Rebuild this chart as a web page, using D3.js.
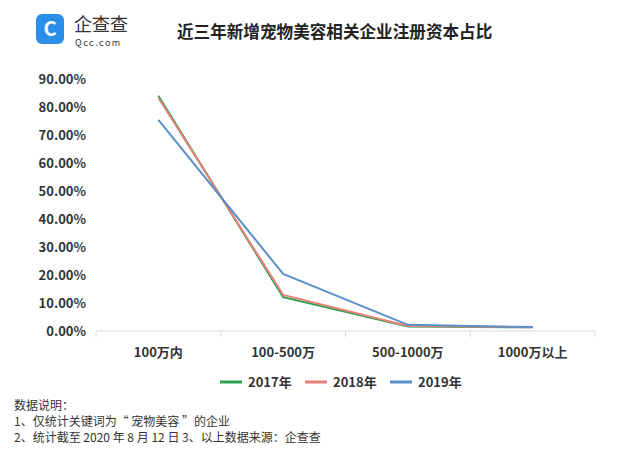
<!DOCTYPE html><html><head><meta charset="utf-8"><script src="https://cdn.jsdelivr.net/npm/d3@7"></script>
<style>body{margin:0;background:#fff}svg{font-family:"Noto Sans CJK SC","Noto Sans",sans-serif}</style></head><body><svg width="640" height="452"></svg>
<script>
const categories=["100万内","100-500万","500-1000万","1000万以上"];
const years=["2017年","2018年","2019年"];
const v2017=[84.0,12.1,1.6,1.3];
const v2018=[83.3,12.9,1.8,1.3];
const v2019=[75.4,20.4,2.2,1.4];
const colors=["#2ea04f","#e8817a","#5b8fc7"];
const yTicks=[0,10,20,30,40,50,60,70,80,90];
const svg=d3.select("svg");
const x=d3.scaleBand().domain(categories).range([96,595]);
const y=d3.scaleLinear().domain([0,90]).range([331,79]);
const g=svg.append("g");
g.append("rect").attr("x",36).attr("y",14).attr("width",28).attr("height",30).attr("rx",6).attr("fill","#2b8ee8");
g.append("text").attr("x",50).attr("y",36).attr("text-anchor","middle").attr("fill","#fff").attr("font-size",20).attr("font-weight","bold").text("C");
g.append("text").attr("x",74).attr("y",31).attr("font-size",18).attr("fill","#333").text("企查查");
g.append("text").attr("x",75).attr("y",46).attr("font-size",9).attr("fill","#333").attr("letter-spacing",1.5).text("Qcc.com");
svg.append("text").attr("x",177).attr("y",38).attr("font-size",16.6).attr("font-weight","bold").attr("fill","#222").text("近三年新增宠物美容相关企业注册资本占比");
svg.selectAll(".yl").data(yTicks).join("text").attr("x",86).attr("y",d=>y(d)+5).attr("text-anchor","end").attr("font-size",13).attr("font-weight","bold").attr("fill","#333").text(d=>d.toFixed(2)+"%");
svg.append("line").attr("x1",96).attr("x2",595).attr("y1",331).attr("y2",331).attr("stroke","#d9d9d9");
const bounds=[96,...categories.map(c=>x(c)+x.bandwidth())];
svg.selectAll(".tk").data(bounds).join("line").attr("x1",d=>d).attr("x2",d=>d).attr("y1",331).attr("y2",337).attr("stroke","#d9d9d9");
svg.selectAll(".xl").data(categories).join("text").attr("x",d=>x(d)+x.bandwidth()/2).attr("y",357).attr("text-anchor","middle").attr("font-size",13).attr("font-weight","bold").attr("fill","#333").text(d=>d);
const line=d3.line().x((d,i)=>x(categories[i])+x.bandwidth()/2).y(d=>y(d));
[v2017,v2018,v2019].forEach((s,i)=>svg.append("path").attr("d",line(s)).attr("fill","none").attr("stroke",colors[i]).attr("stroke-width",2));
years.forEach((yr,i)=>{const lx=220+i*85;
svg.append("line").attr("x1",lx).attr("x2",lx+22).attr("y1",382).attr("y2",382).attr("stroke",colors[i]).attr("stroke-width",3);
svg.append("text").attr("x",lx+28).attr("y",387).attr("font-size",13).attr("font-weight","bold").attr("fill","#333").text(yr);});
const notes=["数据说明：","1、仅统计关键词为“ 宠物美容 ”的企业","2、统计截至 2020 年 8 月 12 日 3、以上数据来源：企查查"];
svg.selectAll(".nt").data(notes).join("text").attr("x",14).attr("y",(d,i)=>410+i*16).attr("font-size",12).attr("fill","#333").text(d=>d);
</script></body></html>
